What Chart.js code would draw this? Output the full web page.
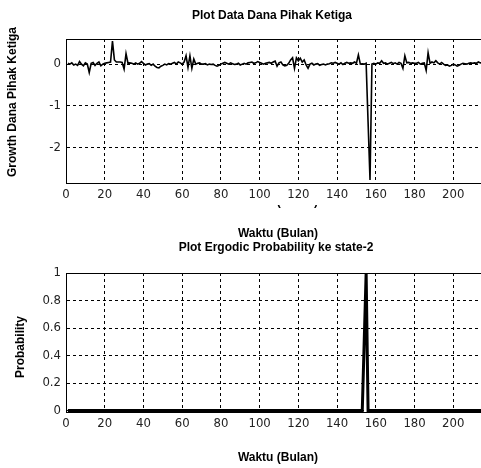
<!DOCTYPE html>
<html>
<head>
<meta charset="utf-8">
<script src="https://cdn.jsdelivr.net/npm/chart.js@4/dist/chart.umd.min.js"></script>
<style>
  body { margin: 0; width: 481px; height: 468px; overflow: hidden; background: #fff; position: relative; }
  .box { position: absolute; left: 0; }
  .lbl { position: absolute; font-family: 'Liberation Sans', Arial, sans-serif; font-weight: bold; font-size: 12px; color: #000; white-space: nowrap; transform: translate(-50%, -50%); }
  .rot { transform: translate(-50%, -50%) rotate(-90deg); }
  .cut { position: absolute; left: 200px; top: 205px; width: 160px; height: 3px; overflow: hidden; }
  .cut span { position: absolute; left: 78px; top: -11px; transform: translateX(-50%); font-family: 'Liberation Sans', Arial, sans-serif; font-weight: bold; font-size: 12px; line-height: 14px; white-space: nowrap; }
</style>
</head>
<body>
<div class="box" style="top:0"><canvas id="growth-chart" width="500" height="215"></canvas></div>
<div class="box" style="top:215px"><canvas id="prob-chart" width="500" height="253"></canvas></div>

<div class="lbl" style="left:272px; top:15px">Plot Data Dana Pihak Ketiga</div>
<div class="lbl rot" style="left:12px; top:102px">Growth Dana Pihak Ketiga</div>
<div class="cut"><span>Waktu (Bulan)</span></div>
<div class="lbl" style="left:278px; top:233px">Waktu (Bulan)</div>
<div class="lbl" style="left:276px; top:247px">Plot Ergodic Probability ke state-2</div>
<div class="lbl rot" style="left:20px; top:347px">Probability</div>
<div class="lbl" style="left:278px; top:457px">Waktu (Bulan)</div>

<script>
// growth of third-party funds, one value per month (1..216)
const growthValues = [
  0.02, 0.0, 0.03, -0.02, 0.0, -0.03, 0.06, 0.0, -0.04, 0.03,
  0.0, -0.2, 0.02, 0.04, -0.03, 0.02, 0.05, -0.04, 0.0, 0.02,
  0.03, 0.04, 0.05, 0.55, 0.1, 0.05, 0.05, 0.05, 0.04, -0.12,
  0.25, 0.02, 0.03, 0.02, 0.0, 0.03, 0.0, 0.02, 0.06, 0.02,
  -0.02, 0.0, 0.01, -0.03, 0.0, -0.05, -0.08, -0.09, -0.05, -0.03,
  0.0, -0.02, 0.01, 0.0, 0.02, 0.04, 0.0, 0.05, 0.03, 0.0,
  0.05, 0.2, -0.08, 0.2, -0.1, 0.12, 0.0, 0.02, 0.03, 0.0,
  0.0, 0.01, -0.02, 0.0, -0.01, 0.0, -0.03, -0.05, -0.03, 0.0,
  0.02, 0.04, 0.02, 0.0, 0.03, 0.01, -0.01, 0.0, 0.02, -0.02,
  0.0, 0.02, 0.0, 0.03, 0.04, 0.05, 0.02, 0.03, 0.06, 0.04,
  0.02, 0.0, 0.02, 0.03, 0.04, 0.02, 0.05, 0.07, -0.05, 0.03,
  0.05, -0.02, -0.04, -0.03, 0.02, 0.1, 0.15, -0.1, 0.15, 0.08,
  0.14, 0.05, 0.1, -0.02, -0.1, 0.0, 0.02, -0.02, 0.0, 0.01,
  -0.03, -0.01, 0.0, -0.02, 0.0, 0.01, 0.03, 0.02, 0.04, 0.02,
  0.0, 0.03, -0.01, 0.02, 0.04, 0.02, 0.03, 0.02, 0.05, 0.02,
  0.22, 0.0, 0.01, 0.0, 0.02, -1.38, -2.77, 0.0, 0.02, 0.0,
  0.03, 0.02, 0.08, 0.02, 0.03, 0.0, 0.02, 0.04, 0.01, 0.03,
  0.0, 0.04, 0.02, -0.1, 0.2, 0.03, 0.04, 0.02, 0.03, 0.02,
  0.02, 0.04, 0.0, 0.02, 0.03, -0.15, 0.27, 0.02, 0.05, 0.03,
  0.08, 0.03, 0.0, 0.04, 0.0, -0.03, -0.02, -0.05, -0.03, 0.0,
  -0.02, -0.05, -0.03, 0.0, 0.02, 0.01, 0.0, 0.02, 0.03, 0.02,
  0.03, 0.02, 0.05, 0.03, 0.04, 0.06,
];

// ergodic probability of state 2: flat zero except the jump near month 155
const probMonths = [1, 153, 154, 155, 156, 216];
const probValues = [0, 0, 0.5, 1, 0, 0];

const monthTicks = [0, 20, 40, 60, 80, 100, 120, 140, 160, 180, 200];
const growthTicks = [-2, -1, 0];
const probTicks = [0, 0.2, 0.4, 0.6, 0.8, 1];

const tickFont = { family: "'Liberation Sans Narrow', 'DejaVu Sans Condensed', Arial, sans-serif", size: 13 };

// solid frame around the plot area, like the matlab axes box
const frame = {
  id: 'frame',
  beforeDatasetsDraw(chart) {
    const a = chart.chartArea;
    const ctx = chart.ctx;
    ctx.save();
    ctx.strokeStyle = '#000';
    ctx.lineWidth = 1;
    ctx.strokeRect(Math.round(a.left) + 0.5, Math.round(a.top) + 0.5, Math.round(a.right - a.left), Math.round(a.bottom - a.top));
    ctx.restore();
  },
};

function axes(yMin, yMax, yTicks, xHeight) {
  return {
    x: {
      type: 'linear',
      min: 0,
      max: 220,
      afterFit: (s) => { s.height = xHeight; },
      afterBuildTicks: (s) => { s.ticks = monthTicks.map((v) => ({ value: v })); },
      grid: { color: '#000', lineWidth: 1, drawTicks: false },
      border: { display: true, color: '#000', dash: [3, 3] },
      ticks: { font: tickFont, color: '#222', padding: 4, maxRotation: 0 },
    },
    y: {
      min: yMin,
      max: yMax,
      afterFit: (s) => { s.width = 66; },
      afterBuildTicks: (s) => { s.ticks = yTicks.map((v) => ({ value: v })); },
      grid: { color: '#000', lineWidth: 1, drawTicks: false },
      border: { display: true, color: '#000', dash: [3, 3] },
      ticks: { font: tickFont, color: '#222', padding: 5, callback: (v) => `${Math.round(v * 10) / 10}` },
    },
  };
}

new Chart(document.getElementById('growth-chart'), {
  type: 'line',
  data: {
    datasets: [
      {
        data: growthValues.map((v, i) => ({ x: i + 1, y: v })),
        borderColor: '#000',
        borderWidth: 1.6,
        pointRadius: 0,
        tension: 0,
        fill: false,
      },
    ],
  },
  options: {
    responsive: false,
    animation: false,
    layout: { padding: { top: 39, right: 8, left: 0, bottom: 0 } },
    plugins: { legend: { display: false }, tooltip: { enabled: false } },
    scales: axes(-2.84, 0.6, growthTicks, 32),
  },
  plugins: [frame],
});

const probPoints = probMonths.map((m, i) => ({ x: m, y: probValues[i] }));

new Chart(document.getElementById('prob-chart'), {
  type: 'line',
  data: {
    datasets: [
      {
        data: probPoints,
        borderColor: '#000',
        borderWidth: 3,
        pointRadius: 0,
        tension: 0,
        fill: false,
        clip: false,
      },
      {
        data: probPoints,
        borderColor: '#b0b0b0',
        borderWidth: 1.2,
        pointRadius: 0,
        tension: 0,
        fill: false,
        clip: false,
      },
    ],
  },
  options: {
    responsive: false,
    animation: false,
    layout: { padding: { top: 58, right: 8, left: 0, bottom: 0 } },
    plugins: { legend: { display: false }, tooltip: { enabled: false } },
    scales: axes(-0.01, 1, probTicks, 56),
  },
  plugins: [frame],
});
</script>
</body>
</html>
